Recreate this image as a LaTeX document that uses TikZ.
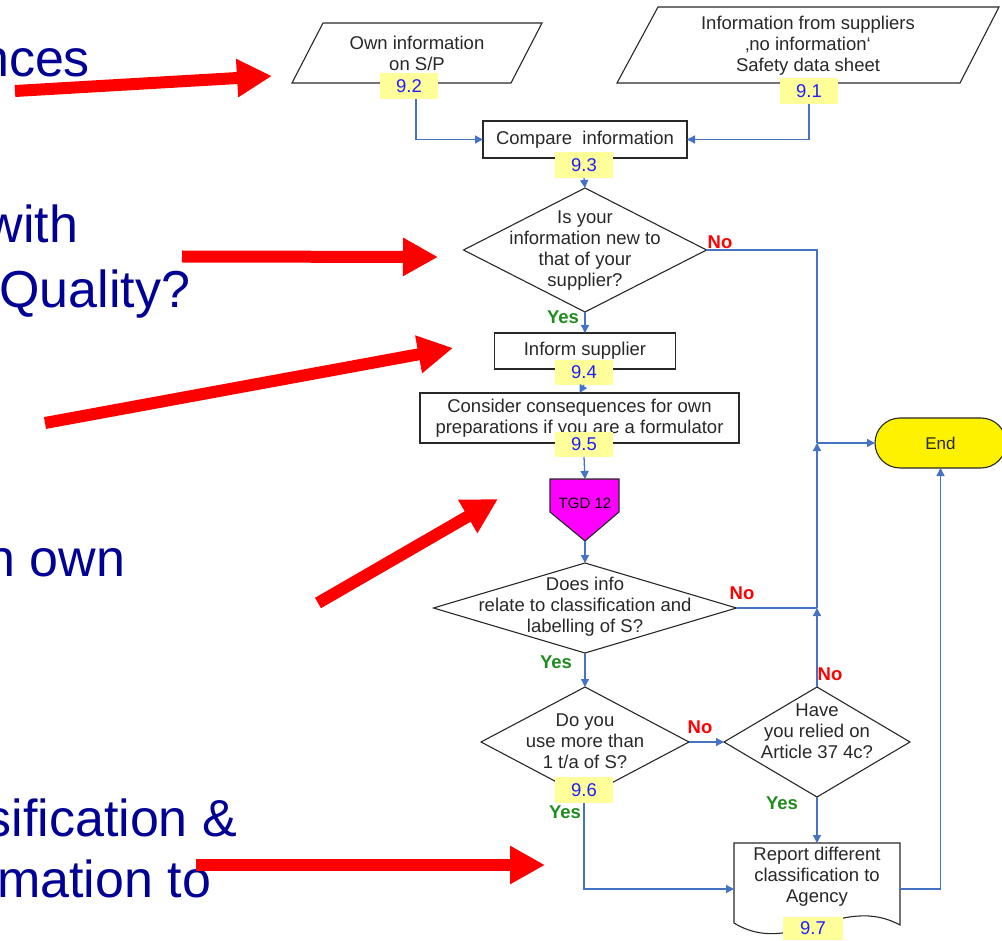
\documentclass[tikz,border=0pt]{standalone}
\usepackage{fontspec}
\setmainfont{Liberation Sans}
\usetikzlibrary{arrows.meta,shapes.geometric}
\definecolor{bigblue}{RGB}{0,0,150}
\definecolor{connc}{RGB}{68,114,196}
\definecolor{labc}{RGB}{255,255,153}
\definecolor{numblue}{RGB}{30,30,255}
\definecolor{yesgreen}{RGB}{30,140,30}
\definecolor{outl}{RGB}{40,40,40}
\definecolor{tgdc}{RGB}{255,0,255}
\newcommand\fsN{\fontsize{18.5}{21}\selectfont}
\newcommand\fsBig{\fontsize{52}{62}\selectfont}
\begin{document}
\begin{tikzpicture}[x=1pt,y=-1pt,
  every node/.style={font=\fsN, inner sep=0pt, outer sep=0pt, text=outl},
  txt/.style={align=center},
  boxn/.style={draw=outl, line width=1.2pt, rectangle, fill=white},
  shp/.style={draw=outl, line width=1.1pt, fill=white},
  dia/.style={diamond, draw=outl, line width=1.1pt, fill=white, inner sep=0pt},
  numlab/.style={fill=labc, text=numblue, minimum width=58pt, minimum height=26pt},
  conn/.style={draw=connc, line width=1.3pt, -{Triangle[length=8pt,width=8pt]}},
  connline/.style={draw=connc, line width=1.3pt},
  yeslab/.style={text=yesgreen, font=\fsN\bfseries},
  nolab/.style={text=red, font=\fsN\bfseries},
  bigtxt/.style={text=bigblue, font=\fsBig, anchor=base east},
  redarr/.style={draw=red, line width=12pt, -{Triangle[length=35pt,width=36pt]}}
]
\useasboundingbox (0,0) rectangle (1002,941);

% left big texts
\node[bigtxt] (t1) at (90,77) {nces};
\node[bigtxt] (t2) at (78,243) {with};
\node[bigtxt] (t3) at (190,308) {Quality?};
\node[bigtxt] (t4) at (125,576) {n own};
\node[bigtxt] (t5) at (237,836) {sification \&};
\node[bigtxt] (t6) at (211,897) {mation to};

% parallelograms
\draw[shp] (323,23) -- (542,23) -- (511,83) -- (292,83) -- cycle;
\node[txt] (p1) at (417,53) {Own information\\on S/P};
\draw[shp] (658,7) -- (999,7) -- (960,83) -- (617,83) -- cycle;
\node[txt] (p2) at (808,46) {Information from suppliers\\‚no information‘\\Safety data sheet};

% process boxes
\node[boxn, minimum width=204pt, minimum height=37pt] (cmp) at (585,139.5) {Compare\ \ information};
\node[dia, minimum width=243pt, minimum height=124pt] (d1) at (585,250) {};
\node[txt] (d1t) at (585,251) {Is your\\information new to\\that of your\\supplier?};
\node[boxn, minimum width=181pt, minimum height=36pt] (inf) at (585,351) {Inform supplier};
\node[boxn, minimum width=319pt, minimum height=50pt, txt] (cons) at (579.5,418) {Consider consequences for own\\preparations if you are a formulator};

% TGD pentagon
\draw[draw=outl, line width=1.1pt, fill=tgdc] (550,479) -- (619,479) -- (619,512) -- (585,541) -- (550,512) -- cycle;
\node[font=\fontsize{15}{17}\selectfont, text=black] (tgd) at (585,503) {TGD 12};
\coordinate (tgdT) at (585,479);
\coordinate (tgdB) at (585,541);

\node[dia, minimum width=303pt, minimum height=90pt] (d2) at (585,608) {};
\node[txt] (d2t) at (585,607) {Does info\\relate to classification and\\labelling of S?};
\node[dia, minimum width=208pt, minimum height=110pt] (d3) at (585,742) {};
\node[txt] (d3t) at (585,741) {Do you\\use more than\\1 t/a of S?};
\node[dia, minimum width=186pt, minimum height=110pt] (d4) at (817,742) {};
\node[txt] (d4t) at (817,731) {Have\\you relied on\\Article 37 4c?};

% document shape
\node[minimum width=166pt, minimum height=92pt] (rep) at (817,889) {};
\draw[shp] (734,923) -- (734,843) -- (900,843) -- (900,925)
  .. controls (841,893) and (791,958) .. (734,923);
\node[txt] (rept) at (817,877) {Report different\\classification to\\Agency};

% End terminal
\node[draw=outl, line width=1.1pt, fill=yellow, rounded corners=25pt,
  minimum width=131pt, minimum height=50pt, font=\fontsize{17}{20}\selectfont] (endn) at (940.5,443) {End};

% number labels
\node[numlab] (n92) at (409,86) {9.2};
\node[numlab] (n91) at (809,91) {9.1};
\node[numlab] (n93) at (584,165) {9.3};
\node[numlab, minimum height=25pt] (n94) at (584,372.5) {9.4};
\node[numlab, minimum height=25pt] (n95) at (584,444.5) {9.5};
\node[numlab] (n96) at (584,790) {9.6};
\node[numlab, minimum width=60pt, minimum height=23pt] (n97) at (813,928.5) {9.7};

% junctions
\coordinate (j1) at (817,443);
\coordinate (j2) at (817,608);

% connectors
\draw[conn] ([xshift=7pt]n92.south) |- (cmp.west);
\draw[conn] (n91.south) |- (cmp.east);
\draw[conn] (n93.south) -- (d1.north);
\draw[connline] (d1.east) -| (j1);
\draw[conn] (j1) -- (endn.west);
\draw[conn] (d1.south) -- (inf.north);
\draw[conn] (n94.south) -- (cons.north);
\draw[conn] (n95.south) -- (tgdT);
\draw[conn] (tgdB) -- (d2.north);
\draw[connline] (d2.east) -- (j2);
\draw[conn] (d4.north) -- (j2);
\draw[conn] (j2) -- (j1);
\draw[conn] (d2.south) -- (d3.north);
\draw[conn] (d3.east) -- (d4.west);
\draw[conn] (d4.south) -- (rep.north);
\draw[conn] (n96.south) |- (rep.west);
\draw[conn] (rep.east) -| (endn.south);

% yes / no labels
\node[nolab] (no1) at (720,242) {No};
\node[nolab] (no2) at (742,593) {No};
\node[nolab] (no3) at (830,674) {No};
\node[nolab] (no4) at (700,727) {No};
\node[yeslab] (y1) at (563,317) {Yes};
\node[yeslab] (y2) at (556,662) {Yes};
\node[yeslab] (y3) at (565,812) {Yes};
\node[yeslab] (y4) at (782,803) {Yes};

% red arrows
\coordinate (a1s) at (15,91);   \coordinate (a1e) at (272,76);
\coordinate (a2s) at (182,256.5); \coordinate (a2e) at (438,257);
\coordinate (a3s) at (45,423);  \coordinate (a3e) at (453,348);
\coordinate (a4s) at (318,603); \coordinate (a4e) at (498,499);
\coordinate (a5s) at (196,865); \coordinate (a5e) at (545,865);
\draw[redarr] (a1s) -- (a1e);
\draw[redarr] (a2s) -- (a2e);
\draw[redarr] (a3s) -- (a3e);
\draw[redarr] (a4s) -- (a4e);
\draw[redarr] (a5s) -- (a5e);
\end{tikzpicture}
\end{document}
